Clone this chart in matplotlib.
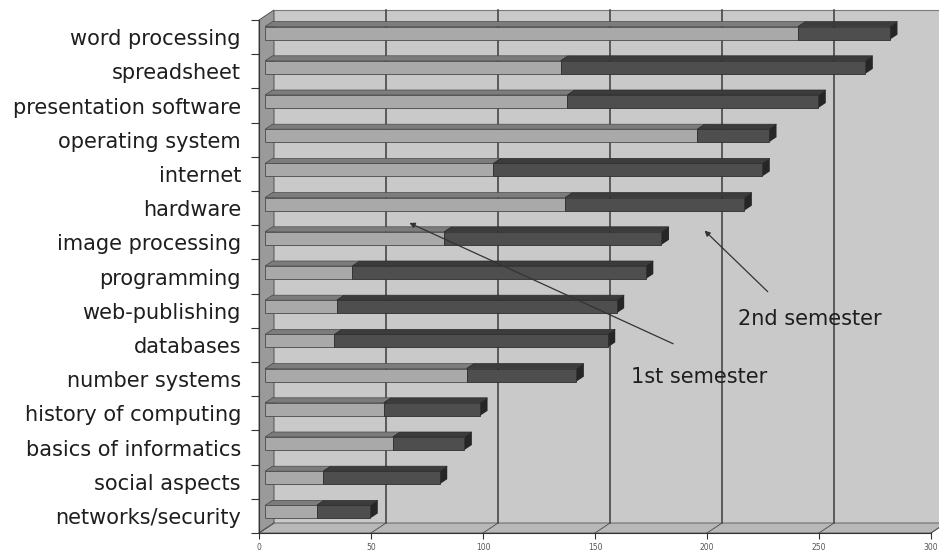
#!/usr/bin/env python3

import numpy as np
import matplotlib.pyplot as plt
from matplotlib.patches import Polygon
from matplotlib.transforms import IdentityTransform, ScaledTranslation

topics = [
    "word processing", "spreadsheet", "presentation software",
    "operating system", "internet", "hardware", "image processing",
    "programming", "web-publishing", "databases", "number systems",
    "history of computing", "basics of informatics", "social aspects",
    "networks/security",
]
first_sem = [238, 132, 135, 193, 102, 134, 80, 39, 32, 31, 90, 53, 57, 26, 23]
second_sem = [41, 136, 112, 32, 120, 80, 97, 131, 125, 122, 49, 43, 32, 52, 24]
x_ticks = [0, 50, 100, 150, 200, 250, 300]

DX, DY = 15, 10       # depth of the fake 3d box, pixels
BAR_D0, BAR_D1 = 0.4, 0.9

fig = plt.figure(figsize=(9.39, 5.55), dpi=100)
ax = fig.add_axes([259 / 939, 22 / 555, 672 / 939, 513 / 555])
ax.set_xlim(0, 300)
ax.set_ylim(len(topics) - 0.5, -0.5)
ax.patch.set_visible(False)

ident = IdentityTransform()


def px(x, y, d=0.0):
    # data point -> display pixels, pushed back by depth d (0 front, 1 back)
    X, Y = ax.transData.transform((x, y))
    return (X + d * DX, Y + d * DY)


def poly(pts, color, z, ec="none", lw=0.0):
    p = Polygon(pts, closed=True, facecolor=color, edgecolor=ec, linewidth=lw,
                transform=ident, clip_on=False, zorder=z)
    ax.add_patch(p)


ytop, ybot = -0.5, len(topics) - 0.5

# back wall, floor, left wall
poly([px(0, ytop, 1), px(300, ytop, 1), px(300, ybot, 1), px(0, ybot, 1)],
     "#c9c9c9", 0.5)
poly([px(0, ybot, 0), px(300, ybot, 0), px(300, ybot, 1), px(0, ybot, 1)],
     "#b8b8b8", 0.6, ec="#555555", lw=0.6)
poly([px(0, ytop, 0), px(0, ytop, 1), px(0, ybot, 1), px(0, ybot, 0)],
     "#9a9a9a", 0.6, ec="#444444", lw=0.6)
a, b = px(0, ytop, 1), px(300, ytop, 1)
ax.plot([a[0], b[0]], [a[1], b[1]], color="#7a7a7a", lw=0.8,
        transform=ident, clip_on=False, zorder=0.7)

# gridlines on the back wall, plus floor diagonals
for t in x_ticks[1:-1]:
    a, b = px(t, ytop, 1), px(t, ybot, 1)
    ax.plot([a[0], b[0]], [a[1], b[1]], color="#3c3c3c", lw=1.1,
            transform=ident, clip_on=False, zorder=0.7)
for t in x_ticks:
    a, b = px(t, ybot, 0), px(t, ybot, 1)
    ax.plot([a[0], b[0]], [a[1], b[1]], color="#555555", lw=0.7,
            transform=ident, clip_on=False, zorder=0.7)

# bars: front face drawn with barh, top face and end cap as polygons
bar_h = 0.38
y = np.arange(len(topics))
shift = ax.transData + ScaledTranslation(BAR_D0 * DX / 100, BAR_D0 * DY / 100,
                                         fig.dpi_scale_trans)
first = np.array(first_sem)
second = np.array(second_sem)
total = first + second

ax.barh(y, first, height=bar_h, color="#a9a9a9", edgecolor="#4a4a4a",
        linewidth=0.6, transform=shift, zorder=3)
ax.barh(y, second, left=first, height=bar_h, color="#4e4e4e",
        edgecolor="#2e2e2e", linewidth=0.6, transform=shift, zorder=3)

for i in range(len(topics)):
    yt = i - bar_h / 2
    yb = i + bar_h / 2
    poly([px(0, yt, BAR_D0), px(first[i], yt, BAR_D0),
          px(first[i], yt, BAR_D1), px(0, yt, BAR_D1)], "#7c7c7c", 2.9,
         ec="#4a4a4a", lw=0.5)
    poly([px(first[i], yt, BAR_D0), px(total[i], yt, BAR_D0),
          px(total[i], yt, BAR_D1), px(first[i], yt, BAR_D1)], "#3c3c3c", 2.9,
         ec="#2a2a2a", lw=0.5)
    poly([px(total[i], yt, BAR_D0), px(total[i], yt, BAR_D1),
          px(total[i], yb, BAR_D1), px(total[i], yb, BAR_D0)], "#262626", 2.9)

# axes
for s in ["top", "right"]:
    ax.spines[s].set_visible(False)
ax.spines["left"].set_color("#333333")
ax.spines["bottom"].set_color("#333333")
ax.spines["left"].set_zorder(4)
ax.spines["bottom"].set_zorder(4)

ax.set_yticks(np.arange(-0.5, len(topics), 1.0))
ax.set_yticklabels([])
ax.tick_params(axis="y", which="major", length=6, color="#333333")
ax.set_yticks(y, minor=True)
ax.set_yticklabels(topics, minor=True, fontsize=15, color="#1e1e1e")
ax.tick_params(axis="y", which="minor", length=0, pad=13)

ax.set_xticks(x_ticks)
ax.set_xticklabels([str(t) for t in x_ticks], fontsize=5.5, color="#555555")
ax.tick_params(axis="x", length=4, color="#333333", pad=3)

# arrows and labels
arrow = dict(arrowstyle="-|>", color="#333333", lw=0.9, mutation_scale=8)
ax.annotate("", xy=(66, 5.4), xytext=(186, 9.0), arrowprops=arrow, zorder=5)
ax.annotate("", xy=(198, 5.6), xytext=(228, 7.5), arrowprops=arrow, zorder=5)
ax.text(214, 8.25, "2nd semester", fontsize=15, color="#1e1e1e",
        va="center", ha="left", zorder=5)
ax.text(166, 9.95, "1st semester", fontsize=15, color="#1e1e1e",
        va="center", ha="left", zorder=5)

fig.savefig("out.png", dpi=100)
